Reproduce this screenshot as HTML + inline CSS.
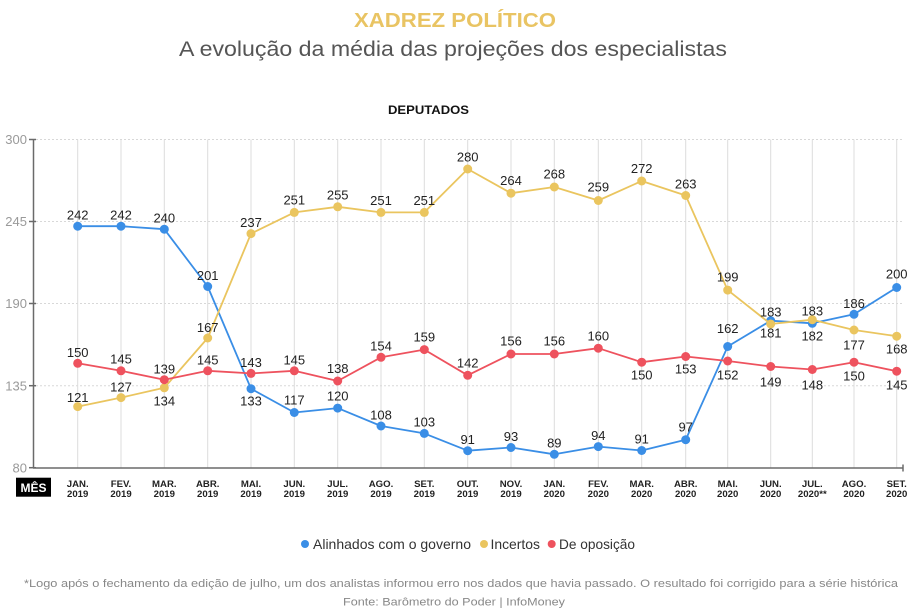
<!DOCTYPE html>
<html>
<head>
<meta charset="utf-8">
<style>
  html, body { margin: 0; padding: 0; background: #ffffff; }
  svg { display: block; }
  text { font-family: "Liberation Sans", "DejaVu Sans", sans-serif; }
  .lbl { font-size: 13px; fill: #222; text-anchor: middle; }
  .mon { font-size: 9.6px; font-weight: bold; fill: #222; text-anchor: middle; }
  .ytk { font-size: 13px; fill: #9a9a9a; text-anchor: end; }
</style>
</head>
<body>
<svg width="924" height="615" viewBox="0 0 924 615" xmlns="http://www.w3.org/2000/svg">
  <rect width="924" height="615" fill="#ffffff"/>

  <!-- Titles -->
  <text x="354" y="27" font-size="20" font-weight="bold" fill="#e9c463" textLength="202" lengthAdjust="spacingAndGlyphs">XADREZ POLÍTICO</text>
  <text x="179" y="56" font-size="21" fill="#555" textLength="548" lengthAdjust="spacingAndGlyphs">A evolução da média das projeções dos especialistas</text>
  <text x="388" y="114" font-size="11.5" font-weight="bold" fill="#111" textLength="81" lengthAdjust="spacingAndGlyphs">DEPUTADOS</text>

  <!-- Horizontal dotted gridlines -->
  <g stroke="#d8d8d8" stroke-width="1" stroke-dasharray="2,2">
    <line x1="36" y1="139.5" x2="903" y2="139.5"/>
    <line x1="36" y1="221.5" x2="903" y2="221.5"/>
    <line x1="36" y1="303.5" x2="903" y2="303.5"/>
    <line x1="36" y1="385.7" x2="903" y2="385.7"/>
  </g>

  <!-- Vertical gridlines -->
  <g stroke="#dcdcdc" stroke-width="1">
    <line x1="77.7" y1="139.5" x2="77.7" y2="468"/>
    <line x1="121" y1="139.5" x2="121" y2="468"/>
    <line x1="164.3" y1="139.5" x2="164.3" y2="468"/>
    <line x1="207.7" y1="139.5" x2="207.7" y2="468"/>
    <line x1="251" y1="139.5" x2="251" y2="468"/>
    <line x1="294.3" y1="139.5" x2="294.3" y2="468"/>
    <line x1="337.7" y1="139.5" x2="337.7" y2="468"/>
    <line x1="381" y1="139.5" x2="381" y2="468"/>
    <line x1="424.3" y1="139.5" x2="424.3" y2="468"/>
    <line x1="467.7" y1="139.5" x2="467.7" y2="468"/>
    <line x1="511" y1="139.5" x2="511" y2="468"/>
    <line x1="554.3" y1="139.5" x2="554.3" y2="468"/>
    <line x1="598.3" y1="139.5" x2="598.3" y2="468"/>
    <line x1="641.7" y1="139.5" x2="641.7" y2="468"/>
    <line x1="685.7" y1="139.5" x2="685.7" y2="468"/>
    <line x1="727.7" y1="139.5" x2="727.7" y2="468"/>
    <line x1="770.7" y1="139.5" x2="770.7" y2="468"/>
    <line x1="812.3" y1="139.5" x2="812.3" y2="468"/>
    <line x1="854" y1="139.5" x2="854" y2="468"/>
    <line x1="896.7" y1="139.5" x2="896.7" y2="468"/>
  </g>

  <!-- Axes -->
  <g stroke="#6a6a6a" stroke-width="1.5">
    <line x1="33.5" y1="139" x2="33.5" y2="468"/>
    <line x1="33" y1="468" x2="903" y2="468"/>
    <line x1="903" y1="464.5" x2="903" y2="471.5"/>
    <line x1="29" y1="139.5" x2="36" y2="139.5"/>
    <line x1="29" y1="221.5" x2="36" y2="221.5"/>
    <line x1="29" y1="303.5" x2="36" y2="303.5"/>
    <line x1="29" y1="385.7" x2="36" y2="385.7"/>
    <line x1="29" y1="467.7" x2="36" y2="467.7"/>
  </g>

  <!-- Y tick labels -->
  <text class="ytk" x="27" y="144.2">300</text>
  <text class="ytk" x="27" y="226.2">245</text>
  <text class="ytk" x="27" y="308.2">190</text>
  <text class="ytk" x="27" y="390.4">135</text>
  <text class="ytk" x="27" y="472.4">80</text>

  <!-- MÊS box -->
  <rect x="16" y="477.7" width="35" height="19" fill="#000"/>
  <text x="33.5" y="491.8" font-size="12" font-weight="bold" fill="#fff" text-anchor="middle">MÊS</text>

  <!-- Month labels -->
  <g>
    <text class="mon" x="77.7" y="487">JAN.</text><text class="mon" x="77.7" y="497">2019</text>
    <text class="mon" x="121" y="487">FEV.</text><text class="mon" x="121" y="497">2019</text>
    <text class="mon" x="164.3" y="487">MAR.</text><text class="mon" x="164.3" y="497">2019</text>
    <text class="mon" x="207.7" y="487">ABR.</text><text class="mon" x="207.7" y="497">2019</text>
    <text class="mon" x="251" y="487">MAI.</text><text class="mon" x="251" y="497">2019</text>
    <text class="mon" x="294.3" y="487">JUN.</text><text class="mon" x="294.3" y="497">2019</text>
    <text class="mon" x="337.7" y="487">JUL.</text><text class="mon" x="337.7" y="497">2019</text>
    <text class="mon" x="381" y="487">AGO.</text><text class="mon" x="381" y="497">2019</text>
    <text class="mon" x="424.3" y="487">SET.</text><text class="mon" x="424.3" y="497">2019</text>
    <text class="mon" x="467.7" y="487">OUT.</text><text class="mon" x="467.7" y="497">2019</text>
    <text class="mon" x="511" y="487">NOV.</text><text class="mon" x="511" y="497">2019</text>
    <text class="mon" x="554.3" y="487">JAN.</text><text class="mon" x="554.3" y="497">2020</text>
    <text class="mon" x="598.3" y="487">FEV.</text><text class="mon" x="598.3" y="497">2020</text>
    <text class="mon" x="641.7" y="487">MAR.</text><text class="mon" x="641.7" y="497">2020</text>
    <text class="mon" x="685.7" y="487">ABR.</text><text class="mon" x="685.7" y="497">2020</text>
    <text class="mon" x="727.7" y="487">MAI.</text><text class="mon" x="727.7" y="497">2020</text>
    <text class="mon" x="770.7" y="487">JUN.</text><text class="mon" x="770.7" y="497">2020</text>
    <text class="mon" x="812.3" y="487">JUL.</text><text class="mon" x="812.3" y="497">2020**</text>
    <text class="mon" x="854" y="487">AGO.</text><text class="mon" x="854" y="497">2020</text>
    <text class="mon" x="896.7" y="487">SET.</text><text class="mon" x="896.7" y="497">2020</text>
  </g>

  <!-- Blue series: Alinhados com o governo -->
  <polyline fill="none" stroke="#3a8ee6" stroke-width="1.8" stroke-linejoin="round"
    points="77.7,226.2 121,226.2 164.3,229.2 207.7,286.5 251,388.7 294.3,412.5 337.7,408.1 381,426 424.3,433.4 467.7,450.7 511,447.5 554.3,454.3 598.3,446.6 641.7,450.5 685.7,439.7 727.7,346.5 770.7,320.7 812.3,323.3 854,314.3 896.7,287.5"/>
  <g fill="#3a8ee6">
    <circle cx="77.7" cy="226.2" r="4.5"/><circle cx="121" cy="226.2" r="4.5"/><circle cx="164.3" cy="229.2" r="4.5"/>
    <circle cx="207.7" cy="286.5" r="4.5"/><circle cx="251" cy="388.7" r="4.5"/><circle cx="294.3" cy="412.5" r="4.5"/>
    <circle cx="337.7" cy="408.1" r="4.5"/><circle cx="381" cy="426" r="4.5"/><circle cx="424.3" cy="433.4" r="4.5"/>
    <circle cx="467.7" cy="450.7" r="4.5"/><circle cx="511" cy="447.5" r="4.5"/><circle cx="554.3" cy="454.3" r="4.5"/>
    <circle cx="598.3" cy="446.6" r="4.5"/><circle cx="641.7" cy="450.5" r="4.5"/><circle cx="685.7" cy="439.7" r="4.5"/>
    <circle cx="727.7" cy="346.5" r="4.5"/><circle cx="770.7" cy="320.7" r="4.5"/><circle cx="812.3" cy="323.3" r="4.5"/>
    <circle cx="854" cy="314.3" r="4.5"/><circle cx="896.7" cy="287.5" r="4.5"/>
  </g>

  <!-- Yellow series: Incertos -->
  <polyline fill="none" stroke="#eac55f" stroke-width="1.8" stroke-linejoin="round"
    points="77.7,406.6 121,397.6 164.3,387.8 207.7,338 251,233.6 294.3,212.4 337.7,206.8 381,212.4 424.3,212.4 467.7,169 511,193.2 554.3,187 598.3,200.5 641.7,181 685.7,195.5 727.7,290.1 770.7,324 812.3,319.7 854,330 896.7,336.2"/>
  <g fill="#eac55f">
    <circle cx="77.7" cy="406.6" r="4.5"/><circle cx="121" cy="397.6" r="4.5"/><circle cx="164.3" cy="387.8" r="4.5"/>
    <circle cx="207.7" cy="338" r="4.5"/><circle cx="251" cy="233.6" r="4.5"/><circle cx="294.3" cy="212.4" r="4.5"/>
    <circle cx="337.7" cy="206.8" r="4.5"/><circle cx="381" cy="212.4" r="4.5"/><circle cx="424.3" cy="212.4" r="4.5"/>
    <circle cx="467.7" cy="169" r="4.5"/><circle cx="511" cy="193.2" r="4.5"/><circle cx="554.3" cy="187" r="4.5"/>
    <circle cx="598.3" cy="200.5" r="4.5"/><circle cx="641.7" cy="181" r="4.5"/><circle cx="685.7" cy="195.5" r="4.5"/>
    <circle cx="727.7" cy="290.1" r="4.5"/><circle cx="770.7" cy="324" r="4.5"/><circle cx="812.3" cy="319.7" r="4.5"/>
    <circle cx="854" cy="330" r="4.5"/><circle cx="896.7" cy="336.2" r="4.5"/>
  </g>

  <!-- Red series: De oposição -->
  <polyline fill="none" stroke="#ee525e" stroke-width="1.8" stroke-linejoin="round"
    points="77.7,363.3 121,370.8 164.3,379.7 207.7,370.8 251,373.4 294.3,370.8 337.7,381 381,357.3 424.3,349.6 467.7,375.3 511,354 554.3,354 598.3,348.2 641.7,362.2 685.7,356.5 727.7,361 770.7,366.5 812.3,369.5 854,362.2 896.7,371.2"/>
  <g fill="#ee525e">
    <circle cx="77.7" cy="363.3" r="4.5"/><circle cx="121" cy="370.8" r="4.5"/><circle cx="164.3" cy="379.7" r="4.5"/>
    <circle cx="207.7" cy="370.8" r="4.5"/><circle cx="251" cy="373.4" r="4.5"/><circle cx="294.3" cy="370.8" r="4.5"/>
    <circle cx="337.7" cy="381" r="4.5"/><circle cx="381" cy="357.3" r="4.5"/><circle cx="424.3" cy="349.6" r="4.5"/>
    <circle cx="467.7" cy="375.3" r="4.5"/><circle cx="511" cy="354" r="4.5"/><circle cx="554.3" cy="354" r="4.5"/>
    <circle cx="598.3" cy="348.2" r="4.5"/><circle cx="641.7" cy="362.2" r="4.5"/><circle cx="685.7" cy="356.5" r="4.5"/>
    <circle cx="727.7" cy="361" r="4.5"/><circle cx="770.7" cy="366.5" r="4.5"/><circle cx="812.3" cy="369.5" r="4.5"/>
    <circle cx="854" cy="362.2" r="4.5"/><circle cx="896.7" cy="371.2" r="4.5"/>
  </g>

  <!-- Blue labels -->
  <g class="lbls">
    <text class="lbl" x="77.7" y="219.5">242</text>
    <text class="lbl" x="121" y="219.5">242</text>
    <text class="lbl" x="164.3" y="222.5">240</text>
    <text class="lbl" x="207.7" y="279.8">201</text>
    <text class="lbl" x="251" y="405.4">133</text>
    <text class="lbl" x="294.3" y="404.7">117</text>
    <text class="lbl" x="337.7" y="400.7">120</text>
    <text class="lbl" x="381" y="419.4">108</text>
    <text class="lbl" x="424.3" y="426.7">103</text>
    <text class="lbl" x="467.7" y="444.2">91</text>
    <text class="lbl" x="511" y="441">93</text>
    <text class="lbl" x="554.3" y="447.7">89</text>
    <text class="lbl" x="598.3" y="440">94</text>
    <text class="lbl" x="641.7" y="443.7">91</text>
    <text class="lbl" x="685.7" y="431.4">97</text>
    <text class="lbl" x="727.7" y="333">162</text>
    <text class="lbl" x="770.7" y="316.4">183</text>
    <text class="lbl" x="812.3" y="340.4">182</text>
    <text class="lbl" x="854" y="308">186</text>
    <text class="lbl" x="896.7" y="278.7">200</text>
  </g>

  <!-- Yellow labels -->
  <g>
    <text class="lbl" x="77.7" y="401.8">121</text>
    <text class="lbl" x="121" y="391.3">127</text>
    <text class="lbl" x="164.3" y="405.4">134</text>
    <text class="lbl" x="207.7" y="332">167</text>
    <text class="lbl" x="251" y="227">237</text>
    <text class="lbl" x="294.3" y="204.7">251</text>
    <text class="lbl" x="337.7" y="199.7">255</text>
    <text class="lbl" x="381" y="205">251</text>
    <text class="lbl" x="424.3" y="205">251</text>
    <text class="lbl" x="467.7" y="161.4">280</text>
    <text class="lbl" x="511" y="185">264</text>
    <text class="lbl" x="554.3" y="178.4">268</text>
    <text class="lbl" x="598.3" y="191.7">259</text>
    <text class="lbl" x="641.7" y="173">272</text>
    <text class="lbl" x="685.7" y="188.7">263</text>
    <text class="lbl" x="727.7" y="281.4">199</text>
    <text class="lbl" x="770.7" y="337.4">181</text>
    <text class="lbl" x="812.3" y="315.7">183</text>
    <text class="lbl" x="854" y="349.7">177</text>
    <text class="lbl" x="896.7" y="353.7">168</text>
  </g>

  <!-- Red labels -->
  <g>
    <text class="lbl" x="77.7" y="357">150</text>
    <text class="lbl" x="121" y="363.7">145</text>
    <text class="lbl" x="164.3" y="373.7">139</text>
    <text class="lbl" x="207.7" y="364.7">145</text>
    <text class="lbl" x="251" y="367">143</text>
    <text class="lbl" x="294.3" y="364.7">145</text>
    <text class="lbl" x="337.7" y="373">138</text>
    <text class="lbl" x="381" y="350.7">154</text>
    <text class="lbl" x="424.3" y="341.4">159</text>
    <text class="lbl" x="467.7" y="367.4">142</text>
    <text class="lbl" x="511" y="345.7">156</text>
    <text class="lbl" x="554.3" y="345.7">156</text>
    <text class="lbl" x="598.3" y="340.7">160</text>
    <text class="lbl" x="641.7" y="379.7">150</text>
    <text class="lbl" x="685.7" y="373.7">153</text>
    <text class="lbl" x="727.7" y="379.7">152</text>
    <text class="lbl" x="770.7" y="386.4">149</text>
    <text class="lbl" x="812.3" y="389.7">148</text>
    <text class="lbl" x="854" y="380.7">150</text>
    <text class="lbl" x="896.7" y="389.7">145</text>
  </g>

  <!-- Legend -->
  <circle cx="305" cy="544" r="4" fill="#3a8ee6"/>
  <text x="313" y="549" font-size="14" fill="#333" textLength="158" lengthAdjust="spacingAndGlyphs">Alinhados com o governo</text>
  <circle cx="484" cy="544" r="4" fill="#eac55f"/>
  <text x="490.5" y="549" font-size="14" fill="#333" textLength="49.5" lengthAdjust="spacingAndGlyphs">Incertos</text>
  <circle cx="551.7" cy="544" r="4" fill="#ee525e"/>
  <text x="559" y="549" font-size="14" fill="#333" textLength="76" lengthAdjust="spacingAndGlyphs">De oposição</text>

  <!-- Footer -->
  <text x="24" y="587" font-size="11" fill="#888" textLength="874" lengthAdjust="spacingAndGlyphs">*Logo após o fechamento da edição de julho, um dos analistas informou erro nos dados que havia passado. O resultado foi corrigido para a série histórica</text>
  <text x="343" y="605.5" font-size="11" fill="#888" textLength="222" lengthAdjust="spacingAndGlyphs">Fonte: Barômetro do Poder | InfoMoney</text>
</svg>
</body>
</html>
